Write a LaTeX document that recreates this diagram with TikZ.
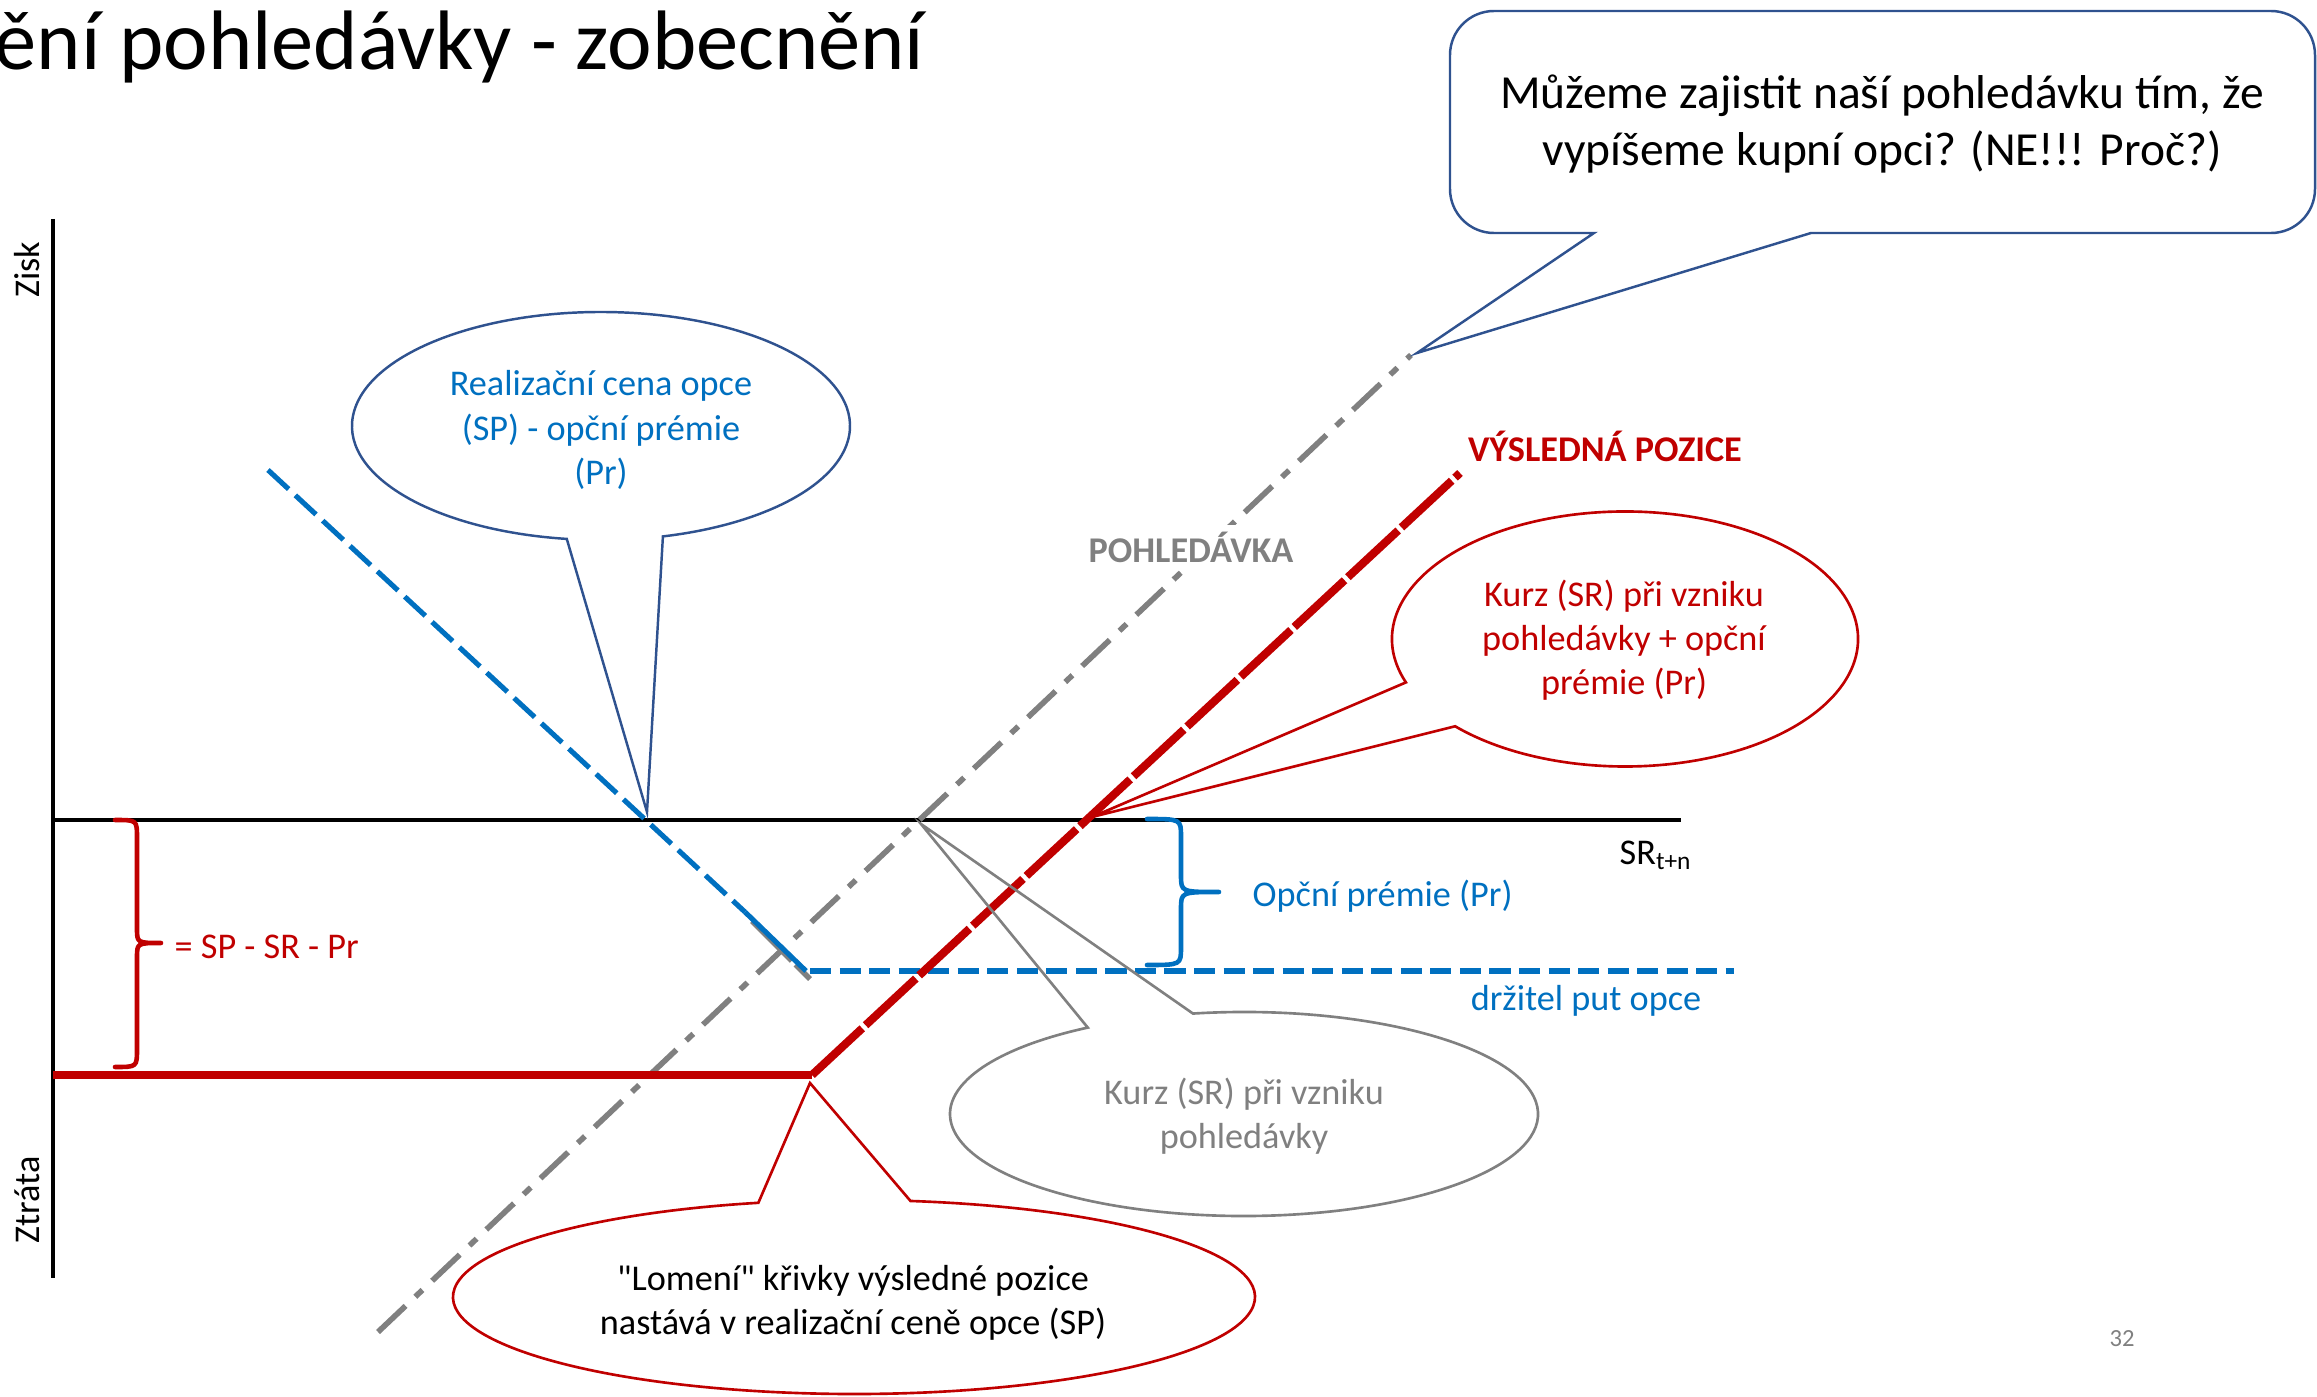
\documentclass[tikz,border=0pt]{standalone}
\usepackage{fontspec}
\setmainfont{Carlito}
% Carlito without the TeX quote mapping, for straight quotation marks
\font\straightq="Carlito" at 10.3pt
\definecolor{optblue}{HTML}{0070C0}
\definecolor{posred}{HTML}{C00000}
\definecolor{recgray}{HTML}{808080}
\definecolor{noteblue}{HTML}{2F528F}
\tikzset{
  body/.style={font=\fontsize{10.3}{12.6}\selectfont, align=center, inner sep=0pt},
  axisline/.style={line width=0.9pt, black},
  putline/.style={line width=1.45pt, optblue},
  recline/.style={line width=1.6pt, recgray, dash pattern=on 10.8pt off 3.8pt on 2.8pt off 3.8pt},
  resline/.style={line width=2.3pt, posred, line join=round},
  notebox/.style={line width=0.7pt, noteblue, line join=miter},
  noteredout/.style={line width=0.75pt, posred, line join=miter},
  notegrayout/.style={line width=0.75pt, recgray, line join=miter},
  bracepath/.style={line width=1.3pt, line join=round, line cap=round},
}
\begin{document}
\begin{tikzpicture}[x=0.01cm, y=-0.01cm]
\useasboundingbox (0,0) rectangle (2317,1397);

% heading, running off the left edge
\begin{scope}
  \clip (0,0) rectangle (2317,1397);
  \node[anchor=base east, inner sep=0pt, font=\fontsize{24}{28}\selectfont] (title) at (925,70) {Zajištění pohledávky - zobecnění};
\end{scope}

% axes
\draw[axisline] (53,219) -- (53,1278);
\draw[axisline] (53,820) -- (1681,820);
\node[rotate=90, inner sep=0pt, font=\fontsize{10.3}{12}\selectfont] (zisk) at (27,270) {Zisk};
\node[rotate=90, inner sep=0pt, font=\fontsize{10.3}{12}\selectfont] (ztrata) at (27,1200) {Ztráta};
\node[anchor=base west, inner sep=0pt, font=\fontsize{10.3}{12}\selectfont] (sr) at (1619,864) {SR\textsubscript{t+n}};

% receivable (dash-dot)
\draw[recline] (378,1332) -- (1411,355);
\draw[line width=1.6pt, recgray, dash pattern=on 16pt off 1.5pt] (752,921) -- (810,979);

% put holder payoff
\draw[putline, dash pattern=on 8pt off 2.6pt] (268,470) -- (745,912);
\draw[putline] (745,912) -- (806,971);
\draw[putline, dash pattern=on 6pt off 2.4pt] (810,971) -- (1734,971);

% resulting position
\draw[resline] (53,1075) -- (812,1075);
\draw[resline, dash pattern=on 19.5pt off 1.3pt] (812,1075) -- (1460,473);

% braces
\draw[bracepath, posred] (115,820) .. controls (137,820) .. (137,838) -- (137,928)
  .. controls (137,943) .. (161,943) .. controls (137,943) .. (137,958) -- (137,1049)
  .. controls (137,1067) .. (115,1067);
\draw[bracepath, optblue] (1147,819) .. controls (1181,819) .. (1181,837) -- (1181,875)
  .. controls (1181,892) .. (1219,892) .. controls (1181,892) .. (1181,909) -- (1181,947)
  .. controls (1181,965) .. (1147,965);

% callout outlines
\coordinate (tipq) at (1417,353);
\coordinate (tipsp) at (647,812);
\coordinate (tipsr) at (921,824);
\coordinate (tipsum) at (1092,817);
\coordinate (tipkink) at (810,1083);
\draw[notebox] (1594,233) -- (1494,233) arc[start angle=90, end angle=180, radius=44]
  -- (1450,55) arc[start angle=180, end angle=270, radius=44]
  -- (2271,11) arc[start angle=270, end angle=360, radius=44]
  -- (2315,189) arc[start angle=0, end angle=90, radius=44]
  -- (1811,233) -- (tipq) -- cycle;
\draw[notebox] (601,426) ++(97.9:249 and 114)
  arc[start angle=97.9, end angle=435.6, x radius=249, y radius=114] -- (tipsp) -- cycle;
\draw[notegrayout] (1244,1114) ++(260:294 and 102)
  arc[start angle=260, end angle=597.9, x radius=294, y radius=102] -- (tipsr) -- cycle;
\draw[noteredout] (1625,639) ++(160.1:233 and 127.5)
  arc[start angle=160.1, end angle=496.8, x radius=233, y radius=127.5] -- (tipsum) -- cycle;
\draw[noteredout] (854,1297) ++(278.1:401 and 97)
  arc[start angle=278.1, end angle=616.2, x radius=401, y radius=97] -- (tipkink) -- cycle;

% callout texts
\node[body, font=\fontsize{13.5}{16.2}\selectfont] (question) at (1882,124)
  {Můžeme zajistit naší pohledávku tím, že\\vypíšeme kupní opci? (NE!!! Proč?)};
\node[body, text=optblue] (spnote) at (601,430)
  {Realizační cena opce\\(SP) - opční prémie\\(Pr)};
\node[body, text=recgray] (srnote) at (1244,1116)
  {Kurz (SR) při vzniku\\pohledávky};
\node[body, text=posred] (sumnote) at (1624,640)
  {Kurz (SR) při vzniku\\pohledávky + opční\\prémie (Pr)};
\node[body] (kinknote) at (853,1303)
  {{\straightq "}Lomení{\straightq "} křivky výsledné pozice\\nastává v realizační ceně opce (SP)};

% line labels
\node[body, fill=white, inner sep=2pt, font=\bfseries\fontsize{10.3}{12}\selectfont, text=recgray] (reclabel) at (1191,547) {POHLEDÁVKA};
\node[body, font=\bfseries\fontsize{10.3}{12}\selectfont, text=posred] (reslabel) at (1605,446) {VÝSLEDNÁ POZICE};
\node[body, anchor=west, text=posred] (gap) at (174,947) {= SP - SR - Pr};
\node[body, anchor=west, text=optblue] (premium) at (1252,896) {Opční prémie (Pr)};
\node[body, text=optblue] (putlabel) at (1586,1001) {držitel put opce};
\node[inner sep=0pt, text=recgray, font=\fontsize{7}{8}\selectfont] (page) at (2122,1339) {32};
\end{tikzpicture}
\end{document}
